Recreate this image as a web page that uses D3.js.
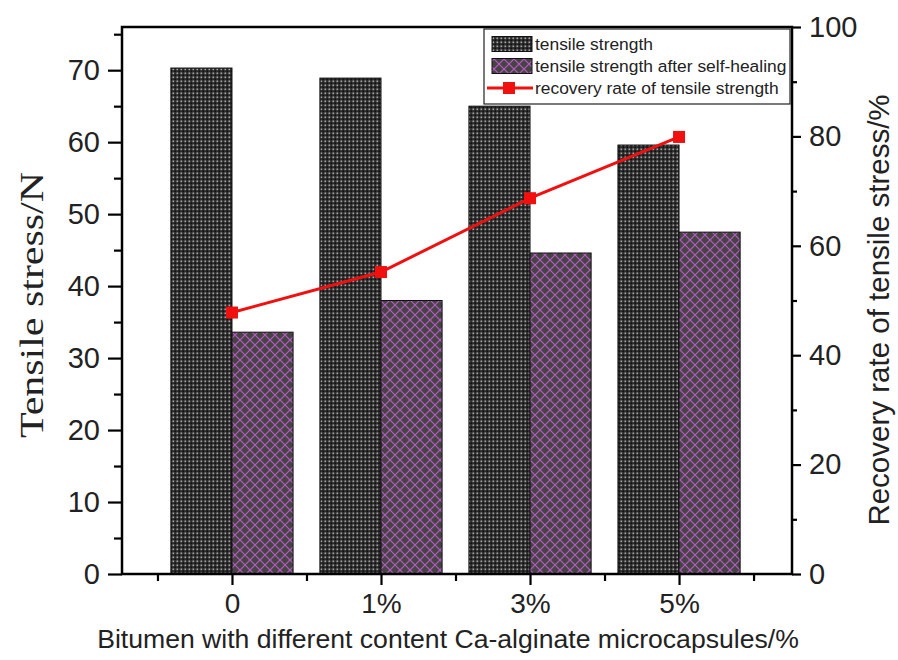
<!DOCTYPE html>
<html>
<head>
<meta charset="utf-8">
<script src="https://cdn.jsdelivr.net/npm/d3@7/dist/d3.min.js"></script>
<style>
  html, body { margin: 0; padding: 0; background: #fff; }
  svg { display: block; }
</style>
</head>
<body>
<svg id="chart" width="898" height="660"></svg>
<script>
// Microcapsule content groups
const categories = ["0", "1%", "3%", "5%"];
// Tensile stress before and after self-healing (N)
const tensileStrength = [70.3, 68.9, 65.0, 59.6];
const healedStrength = [33.6, 38.0, 44.6, 47.5];
// Recovery rate of tensile stress (%)
const recoveryRate = [47.8, 55.2, 68.7, 79.9];
const leftTicks = [0, 10, 20, 30, 40, 50, 60, 70];
const rightTicks = [0, 20, 40, 60, 80, 100];
const legendLabels = ["tensile strength", "tensile strength after self-healing", "recovery rate of tensile strength"];

const svg = d3.select("#chart");
const L = 122, R = 792, T = 27, B = 574;

const x = d3.scaleLinear().domain([-0.738, 3.758]).range([L, R]);
const yL = d3.scaleLinear().domain([0, 76]).range([B, T]);
const yR = d3.scaleLinear().domain([0, 100]).range([B, T]);
const barW = x(0.41) - x(0);

// Fill patterns
const defs = svg.append("defs");
const dots = defs.append("pattern").attr("id", "dots").attr("patternUnits", "userSpaceOnUse")
  .attr("width", 4).attr("height", 4);
dots.append("rect").attr("width", 4).attr("height", 4).attr("fill", "#2c2c2c");
dots.append("rect").attr("x", 0.5).attr("y", 0.5).attr("width", 1.6).attr("height", 1.6).attr("fill", "#a8a8a8");
dots.append("rect").attr("x", 2.5).attr("y", 2.5).attr("width", 1.6).attr("height", 1.6).attr("fill", "#111");

const hatch = defs.append("pattern").attr("id", "hatch").attr("patternUnits", "userSpaceOnUse")
  .attr("width", 10).attr("height", 10);
hatch.append("rect").attr("width", 10).attr("height", 10).attr("fill", "#474244");
hatch.append("path").attr("d", "M0,0L10,10M10,0L0,10M-1,9L1,11M9,-1L11,1")
  .attr("stroke", "#b45cc4").attr("stroke-width", 1.2).attr("fill", "none");

// Bars
const g = svg.append("g");
g.selectAll("rect.ts").data(tensileStrength).join("rect").attr("class", "ts")
  .attr("x", (d, i) => x(i) - barW).attr("y", d => yL(d))
  .attr("width", barW).attr("height", d => B - yL(d))
  .attr("fill", "url(#dots)").attr("stroke", "#111").attr("stroke-width", 1);
g.selectAll("rect.hs").data(healedStrength).join("rect").attr("class", "hs")
  .attr("x", (d, i) => x(i)).attr("y", d => yL(d))
  .attr("width", barW).attr("height", d => B - yL(d))
  .attr("fill", "url(#hatch)").attr("stroke", "#111").attr("stroke-width", 1);

// Recovery rate line
const line = d3.line().x((d, i) => x(i)).y(d => yR(d));
g.append("path").datum(recoveryRate).attr("d", line)
  .attr("fill", "none").attr("stroke", "#f01010").attr("stroke-width", 3);
g.selectAll("rect.mk").data(recoveryRate).join("rect").attr("class", "mk")
  .attr("x", (d, i) => x(i) - 6).attr("y", d => yR(d) - 6)
  .attr("width", 12).attr("height", 12).attr("fill", "#f01010");

// Axes
const tickFont = "Liberation Sans, Arial, sans-serif";
function styleAxis(sel) {
  sel.selectAll(".domain").remove();
  sel.selectAll("line").attr("stroke", "#000").attr("stroke-width", 2.2);
  sel.selectAll("text").attr("font-family", tickFont).attr("font-size", 29).attr("fill", "#222");
}
svg.append("g").attr("transform", `translate(${L},0)`)
  .call(d3.axisLeft(yL).tickValues(leftTicks).tickFormat(d3.format("d")).tickSize(14).tickPadding(8))
  .call(styleAxis);
svg.append("g").attr("transform", `translate(${L},0)`)
  .call(d3.axisLeft(yL).tickValues(d3.range(5, 76, 10)).tickFormat("").tickSize(8))
  .call(styleAxis);

svg.append("g").attr("transform", `translate(${R},0)`)
  .call(d3.axisRight(yR).tickValues(rightTicks).tickSize(9).tickPadding(8))
  .call(styleAxis);
svg.append("g").attr("transform", `translate(${R},0)`)
  .call(d3.axisRight(yR).tickValues(d3.range(10, 100, 20)).tickFormat("").tickSize(5))
  .call(styleAxis);

svg.append("g").attr("transform", `translate(0,${B})`)
  .call(d3.axisBottom(x).tickValues(d3.range(categories.length)).tickFormat(i => categories[i]).tickSize(11).tickPadding(8))
  .call(styleAxis)
  .selectAll("text").attr("font-size", 28);
svg.append("g").attr("transform", `translate(0,${B})`)
  .call(d3.axisBottom(x).tickValues([-0.5, 0.5, 1.5, 2.5, 3.5]).tickFormat("").tickSize(7))
  .call(styleAxis);

// Frame
svg.append("rect").attr("x", L).attr("y", T).attr("width", R - L).attr("height", B - T)
  .attr("fill", "none").attr("stroke", "#000").attr("stroke-width", 2.5);

// Axis titles
svg.append("text").attr("transform", `translate(43,305) rotate(-90)`)
  .attr("text-anchor", "middle").attr("font-family", "Liberation Serif, Times New Roman, serif")
  .attr("font-size", 33).attr("textLength", 266).attr("lengthAdjust", "spacingAndGlyphs")
  .attr("fill", "#222").text("Tensile stress/N");
svg.append("text").attr("transform", `translate(889,310) rotate(-90)`)
  .attr("text-anchor", "middle").attr("font-family", tickFont)
  .attr("font-size", 29.5).attr("fill", "#222").text("Recovery rate of tensile stress/%");
svg.append("text").attr("x", 448).attr("y", 648)
  .attr("text-anchor", "middle").attr("font-family", tickFont)
  .attr("font-size", 26.6).attr("fill", "#222").text("Bitumen with different content Ca-alginate microcapsules/%");

// Legend
const lg = svg.append("g").attr("transform", "translate(484,29)");
lg.append("rect").attr("width", 306).attr("height", 75).attr("fill", "#fff")
  .attr("stroke", "#222").attr("stroke-width", 1.2);
const rowY = [15, 37, 59];
lg.append("rect").attr("x", 8).attr("y", rowY[0] - 7.5).attr("width", 40).attr("height", 15)
  .attr("fill", "url(#dots)").attr("stroke", "#111");
lg.append("rect").attr("x", 8).attr("y", rowY[1] - 7.5).attr("width", 40).attr("height", 15)
  .attr("fill", "url(#hatch)").attr("stroke", "#111");
lg.append("line").attr("x1", 3).attr("x2", 49).attr("y1", rowY[2]).attr("y2", rowY[2])
  .attr("stroke", "#f01010").attr("stroke-width", 3);
lg.append("rect").attr("x", 19).attr("y", rowY[2] - 6).attr("width", 12).attr("height", 12).attr("fill", "#f01010");
lg.selectAll("text").data(legendLabels).join("text")
  .attr("x", 51).attr("y", (d, i) => rowY[i] + 6)
  .attr("font-family", tickFont).attr("font-size", 17.4).attr("fill", "#222").text(d => d);
</script>
</body>
</html>
